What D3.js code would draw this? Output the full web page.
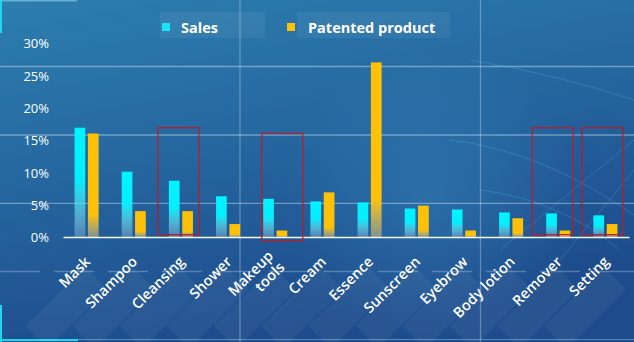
<!DOCTYPE html>
<html>
<head>
<meta charset="utf-8">
<script src="https://cdn.jsdelivr.net/npm/d3@7"></script>
<style>
html,body{margin:0;padding:0;background:#22619c;}
svg{display:block;}
text{font-family:"Open Sans","Noto Sans",sans-serif;}
</style>
</head>
<body>
<svg id="chart" width="634" height="342"></svg>
<script>
const categories = ["Mask","Shampoo","Cleansing","Shower","Makeup tools","Cream","Essence","Sunscreen","Eyebrow","Body lotion","Remover","Setting"];
const seriesNames = ["Sales","Patented product"];
const salesValues = [16.9,10.1,8.7,6.3,5.9,5.5,5.35,4.4,4.25,3.8,3.65,3.35];
const patentValues = [16.0,4.0,4.0,2.0,1.0,6.9,27.0,4.85,1.0,2.9,1.0,2.0];
const yTicks = [0,5,10,15,20,25,30];
const highlighted = ["Cleansing","Makeup tools","Remover","Setting"];

const W = 634, H = 342;
const svg = d3.select("#chart");
const defs = svg.append("defs");

// background gradient
const bg = defs.append("linearGradient").attr("id","bg").attr("x1",0).attr("y1",0).attr("x2",0.35).attr("y2",1);
bg.append("stop").attr("offset",0).attr("stop-color","#2c7eae");
bg.append("stop").attr("offset",0.5).attr("stop-color","#25669f");
bg.append("stop").attr("offset",1).attr("stop-color","#1d4b8b");
svg.append("rect").attr("width",W).attr("height",H).attr("fill","url(#bg)");

// faint globe / network decoration
const glow = defs.append("radialGradient").attr("id","glow");
glow.append("stop").attr("offset",0).attr("stop-color","#4fb6e6").attr("stop-opacity",0.22);
glow.append("stop").attr("offset",1).attr("stop-color","#4fb6e6").attr("stop-opacity",0);
svg.append("circle").attr("cx",430).attr("cy",200).attr("r",150).attr("fill","url(#glow)");
const deco = svg.append("g").attr("fill","none").attr("stroke","#5fc6ee").attr("stroke-opacity",0.25).attr("stroke-width",1);
deco.append("path").attr("d","M470,60 Q560,75 634,100");
deco.append("path").attr("d","M450,140 Q540,150 634,215");
deco.append("path").attr("d","M500,250 L634,140");
deco.append("path").attr("d","M560,260 L634,170");
deco.append("path").attr("d","M480,190 Q560,200 620,250");

// background grid decoration lines
const gridG = svg.append("g").attr("stroke","#cfe4f3").attr("stroke-opacity",0.45).attr("stroke-width",1.3);
[66.5,135,203.3].forEach(y=>gridG.append("line").attr("x1",0).attr("x2",W).attr("y1",y).attr("y2",y));
gridG.append("line").attr("x1",0).attr("x2",W).attr("y1",271.5).attr("y2",271.5).attr("stroke-dasharray","40,14").attr("stroke-opacity",0.3);
[240,480.5].forEach(x=>gridG.append("line").attr("x1",x).attr("x2",x).attr("y1",0).attr("y2",H).attr("stroke-opacity",0.35));

// frame decorations
svg.append("rect").attr("x",0).attr("y",0).attr("width",77).attr("height",1.5).attr("fill","#8fd3ee").attr("opacity",0.6);
svg.append("rect").attr("x",0).attr("y",0).attr("width",2).attr("height",33).attr("fill","#22d6f0");
svg.append("rect").attr("x",0).attr("y",305).attr("width",2).attr("height",37).attr("fill","#22d6f0");
svg.append("rect").attr("x",0).attr("y",339).attr("width",78).attr("height",2).attr("fill","#22d6f0");
svg.append("rect").attr("x",78).attr("y",339).attr("width",W-78).attr("height",1).attr("fill","#9cc7e6").attr("opacity",0.5);

// scales
const x = d3.scaleBand().domain(categories).range([63,629]).paddingInner(0).paddingOuter(0);
const bw = x.bandwidth();
const xs = d3.scaleBand().domain(seriesNames).range([bw*0.245, bw*0.755]).paddingInner(0.2);
const y = d3.scaleLinear().domain([0,30]).range([237,43]);

// label background diamonds
const labelBg = svg.append("g");
categories.forEach(c=>{
  const cx = x(c)+bw/2;
  labelBg.append("rect")
    .attr("x",-66).attr("y",-15).attr("width",84).attr("height",32)
    .attr("transform",`translate(${cx-4},${290}) rotate(-45)`)
    .attr("fill","#ffffff").attr("opacity",0.05);
});

// gradients for bars
const gS = defs.append("linearGradient").attr("id","gSales").attr("x1",0).attr("y1",0).attr("x2",0).attr("y2",1);
gS.append("stop").attr("offset",0).attr("stop-color","#00f4ff");
gS.append("stop").attr("offset",0.48).attr("stop-color","#05eefc");
gS.append("stop").attr("offset",1).attr("stop-color","#b8dcef").attr("stop-opacity",0.3);
const gP = defs.append("linearGradient").attr("id","gPat").attr("x1",0).attr("y1",0).attr("x2",0).attr("y2",1);
gP.append("stop").attr("offset",0).attr("stop-color","#ffc107");
gP.append("stop").attr("offset",0.78).attr("stop-color","#ffc107");
gP.append("stop").attr("offset",1).attr("stop-color","#f3d070").attr("stop-opacity",0.45);
const fills = {"Sales":"url(#gSales)","Patented product":"url(#gPat)"};
const legendColors = {"Sales":"#19e6f5","Patented product":"#ffc107"};

// y axis labels
const yAxis = d3.axisLeft(y).tickValues(yTicks).tickFormat(d=>d+"%").tickSize(0).tickPadding(0);
const yg = svg.append("g").attr("transform","translate(49,0)").call(yAxis);
yg.select(".domain").remove();
yg.selectAll("text").attr("fill","#ffffff").attr("font-size",13).attr("dy","0.36em").attr("x",0);

// bars
const rows = categories.map((c,i)=>({c, vals:[{s:"Sales",v:salesValues[i]},{s:"Patented product",v:patentValues[i]}]}));
const bg2 = svg.append("g");
rows.forEach(r=>{
  bg2.selectAll(null).data(r.vals).enter().append("rect")
    .attr("x",d=>x(r.c)+xs(d.s))
    .attr("width",xs.bandwidth())
    .attr("y",d=>y(d.v))
    .attr("height",d=>y(0)-y(d.v))
    .attr("fill",d=>fills[d.s]);
});

// baseline x axis
const xAxis = d3.axisBottom(x).tickSize(0).tickFormat("");
const xg = svg.append("g").attr("transform",`translate(0,${y(0)})`).call(xAxis);
xg.select(".domain").attr("stroke","#ffffff").attr("stroke-width",1.5).attr("stroke-opacity",0.95);

// category labels
const lab = svg.append("g");
categories.forEach(c=>{
  const cx = x(c)+bw/2;
  const t = lab.append("text")
    .attr("transform",`translate(${cx+1},${259}) rotate(-45)`)
    .attr("text-anchor","end").attr("fill","#ffffff").attr("font-size",14.5).attr("font-weight",600);
  const parts = c==="Makeup tools" ? ["Makeup","tools"] : [c];
  const firstDy = parts.length>1 ? "-0.2em" : "0.35em";
  parts.forEach((p,i)=>{
    t.append("tspan").attr("x",0).attr("dy", i===0 ? firstDy : "1.1em").text(p);
  });
});

// highlight boxes (hand-placed annotation frames)
const boxShift = {"Cleansing":-2.5,"Makeup tools":7,"Remover":-5.5,"Setting":-3};
highlighted.forEach(c=>{
  const cx = x(c)+bw/2 + boxShift[c];
  const top = c==="Makeup tools" ? y(16.0) : y(16.9);
  const bottom = c==="Makeup tools" ? y(-0.6) : y(0.35);
  svg.append("rect")
    .attr("x",cx-20.5).attr("y",top)
    .attr("width",41).attr("height",bottom-top)
    .attr("fill","none").attr("stroke","#b41f2c").attr("stroke-width",1.3);
});

// legend
const legend = svg.append("g");
const legPos = [{bx:160,bw:105,mx:162,tx:181},{bx:297,bw:153,mx:287,tx:308}];
seriesNames.forEach((s,i)=>{
  const p = legPos[i];
  legend.append("rect").attr("x",p.bx).attr("y",12).attr("width",p.bw).attr("height",26).attr("fill","#ffffff").attr("opacity",0.06);
  legend.append("rect").attr("x",p.mx).attr("y",23).attr("width",8).attr("height",8).attr("fill",legendColors[s]);
  legend.append("text").attr("x",p.tx).attr("y",33).attr("fill","#ffffff").attr("font-size",14.5).attr("font-weight","bold").text(s);
});
</script>
</body>
</html>
